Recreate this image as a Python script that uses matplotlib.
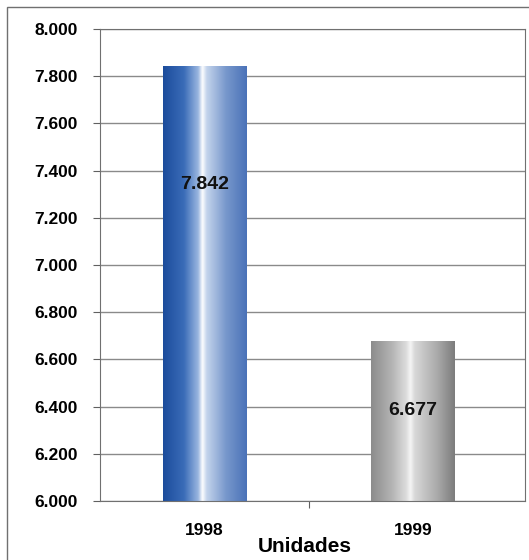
import numpy as np
import matplotlib.pyplot as plt
from matplotlib.colors import LinearSegmentedColormap
from matplotlib.patches import Rectangle

plt.rcParams['font.family'] = ['Liberation Sans', 'DejaVu Sans']

years = ['1998', '1999']
values = [7842, 6677]
value_labels = ['7.842', '6.677']
y_ticks = [6000, 6200, 6400, 6600, 6800, 7000, 7200, 7400, 7600, 7800, 8000]
y_tick_labels = ['6.000', '6.200', '6.400', '6.600', '6.800', '7.000',
                 '7.200', '7.400', '7.600', '7.800', '8.000']

# gradient stops for the "cylinder" look of each bar
blue_cmap = LinearSegmentedColormap.from_list('blue', [
    (0.0, '#1c4c9c'), (0.25, '#3a6cb8'), (0.42, '#9ab6e0'), (0.47, '#ffffff'),
    (0.52, '#c4d4ec'), (0.75, '#7898cc'), (1.0, '#4a72b8')])
gray_cmap = LinearSegmentedColormap.from_list('gray', [
    (0.0, '#8c8c8c'), (0.25, '#b4b4b4'), (0.42, '#dcdcdc'), (0.47, '#f6f6f6'),
    (0.52, '#d8d8d8'), (0.8, '#a8a8a8'), (1.0, '#7c7c7c')])
cmaps = [blue_cmap, gray_cmap]

fig = plt.figure(figsize=(5.29, 5.6), dpi=100)
# outer chart frame
fig.patches.append(Rectangle((7 / 529, -0.1), 1.2, 1 - 7 / 560 + 0.1,
                             transform=fig.transFigure, fill=False,
                             edgecolor='#707070', linewidth=1.0))
ax = fig.add_axes([100 / 529, 1 - 501 / 560, 425 / 529, 472 / 560])

ymin, ymax = 6000, 8000
width = 0.4
grad = np.linspace(0, 1, 256).reshape(1, -1)
for i, (v, cm) in enumerate(zip(values, cmaps)):
    ax.imshow(grad, cmap=cm, aspect='auto', interpolation='bicubic',
              extent=(i - width / 2, i + width / 2, ymin, v), zorder=2)

label_y = [7340, 6385]
for i, (lab, ly) in enumerate(zip(value_labels, label_y)):
    ax.text(i, ly, lab, ha='center', va='center', fontsize=14,
            fontweight='bold', color='#111111', zorder=3)

ax.set_xlim(-0.5, 1.538)
ax.set_ylim(ymin, ymax)
ax.set_yticks(y_ticks)
ax.set_yticklabels(y_tick_labels, fontsize=12.5, fontweight='bold')
ax.set_xticks([0.5])
ax.set_xticklabels([''])
ax.tick_params(axis='x', length=5, direction='out', color='#606060')
ax.tick_params(axis='y', length=5, direction='out', color='#606060', pad=11)
ax.yaxis.grid(True, color='#8a8a8a', linewidth=1.0)
ax.set_axisbelow(True)
for s in ax.spines.values():
    s.set_color('#707070')

xt = ax.get_xaxis_transform()
for i, y in enumerate(years):
    ax.text(i, -0.062, y, transform=xt, ha='center',
            va='center', fontsize=12.5, fontweight='bold')
ax.text(0.48, -0.097, 'Unidades', transform=xt, ha='center',
        va='center', fontsize=15, fontweight='bold')

fig.savefig('out.png', dpi=100)
